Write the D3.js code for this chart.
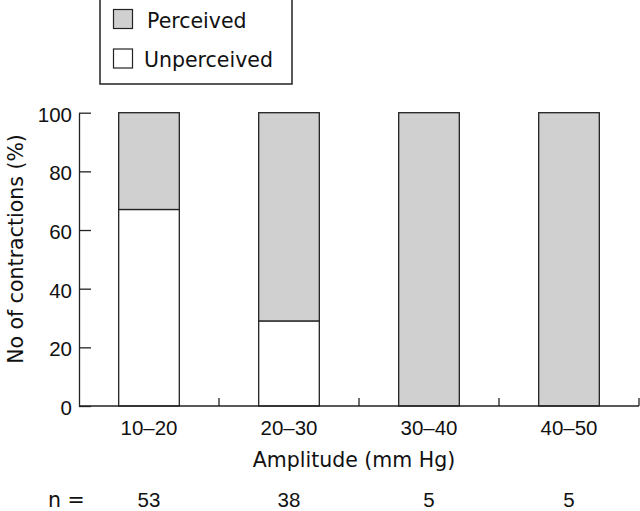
<!DOCTYPE html>
<html>
<head>
<meta charset="utf-8">
<script src="https://cdn.jsdelivr.net/npm/d3@7"></script>
<style>
  html, body { margin: 0; padding: 0; background: #fff; }
  svg { display: block; }
  text { fill: #111; }
</style>
</head>
<body>
<script>
const categories = ["10–20", "20–30", "30–40", "40–50"];
const unperceived = [67, 29, 0, 0];
const perceived = [33, 71, 100, 100];
const nValues = [53, 38, 5, 5];
const yTicks = [0, 20, 40, 60, 80, 100];
const seriesNames = ["Perceived", "Unperceived"];
const seriesColors = ["#d0d0d0", "#ffffff"];

const W = 640, H = 511;
const svg = d3.select("body").append("svg").attr("width", W).attr("height", H);

const numFont = "'Liberation Sans', Arial, sans-serif";
const wordFont = "'DejaVu Sans', sans-serif";
const numSize = 20.5;
const wordSize = 20.5;

const x = d3.scaleBand().domain(categories).range([79, 639])
  .paddingInner(0.567).paddingOuter(0.2835);
const y = d3.scaleLinear().domain([0, 100]).range([406, 112.7]);

const stroke = "#222";

// stacked bars
const rows = categories.map((c, i) => ({ cat: c, Unperceived: unperceived[i], Perceived: perceived[i] }));
const stack = d3.stack().keys(["Unperceived", "Perceived"])(rows);
const colorOf = { Perceived: seriesColors[0], Unperceived: seriesColors[1] };

stack.forEach(layer => {
  svg.append("g").selectAll("rect").data(layer.filter(d => d[1] - d[0] > 0)).join("rect")
    .attr("x", d => x(d.data.cat))
    .attr("width", x.bandwidth())
    .attr("y", d => y(d[1]))
    .attr("height", d => y(d[0]) - y(d[1]))
    .attr("fill", colorOf[layer.key])
    .attr("stroke", stroke)
    .attr("stroke-width", 1.3);
});

// y axis
const yAxis = svg.append("g").attr("transform", "translate(79,0)")
  .call(d3.axisLeft(y).tickValues(yTicks).tickSizeInner(-12).tickSizeOuter(0).tickPadding(7));
yAxis.select(".domain").attr("stroke", stroke).attr("stroke-width", 1.3);
yAxis.selectAll(".tick line").attr("stroke", stroke).attr("stroke-width", 1.3);
yAxis.selectAll(".tick text").attr("font-size", numSize).attr("font-family", numFont)
  .attr("fill", "#111").attr("dy", "0.42em");

// x axis line
svg.append("line").attr("x1", 79).attr("x2", 639).attr("y1", y(0)).attr("y2", y(0))
  .attr("stroke", stroke).attr("stroke-width", 1.3);
// separator ticks at band boundaries
svg.append("g").selectAll("line").data(categories).join("line")
  .attr("x1", d => x(d) + x.bandwidth() + x.step() * x.paddingInner() / 2)
  .attr("x2", d => x(d) + x.bandwidth() + x.step() * x.paddingInner() / 2)
  .attr("y1", y(0)).attr("y2", y(0) - 8)
  .attr("stroke", stroke).attr("stroke-width", 1.3);

// category labels
svg.append("g").selectAll("text").data(categories).join("text")
  .attr("x", d => x(d) + x.bandwidth() / 2)
  .attr("y", 435)
  .attr("text-anchor", "middle")
  .attr("font-family", numFont)
  .attr("font-size", numSize)
  .text(d => d);

// x title
svg.append("text").attr("x", 354).attr("y", 467).attr("text-anchor", "middle")
  .attr("font-family", wordFont).attr("font-size", wordSize).text("Amplitude (mm Hg)");

// n row
const nY = 507;
svg.append("text").attr("x", 48).attr("y", nY).attr("font-family", wordFont)
  .attr("font-size", wordSize).text("n =");
svg.append("g").selectAll("text").data(nValues).join("text")
  .attr("x", (d, i) => x(categories[i]) + x.bandwidth() / 2)
  .attr("y", nY)
  .attr("text-anchor", "middle")
  .attr("font-family", numFont)
  .attr("font-size", numSize)
  .text(d => d);

// y title
svg.append("text").attr("transform", "translate(23,249) rotate(-90)")
  .attr("text-anchor", "middle").attr("font-family", wordFont).attr("font-size", wordSize)
  .text("No of contractions (%)");

// legend
const lg = svg.append("g");
lg.append("rect").attr("x", 100).attr("y", -2).attr("width", 192).attr("height", 86)
  .attr("fill", "#fff").attr("stroke", stroke).attr("stroke-width", 1.5);
seriesNames.forEach((name, i) => {
  lg.append("rect").attr("x", 113.5).attr("y", 9.5 + i * 39.5).attr("width", 19).attr("height", 19)
    .attr("fill", seriesColors[i]).attr("stroke", stroke).attr("stroke-width", 1.2);
  lg.append("text").attr("x", i === 0 ? 147 : 144).attr("y", 27.5 + i * 39.5)
    .attr("font-family", wordFont).attr("font-size", wordSize).text(name);
});
</script>
</body>
</html>
